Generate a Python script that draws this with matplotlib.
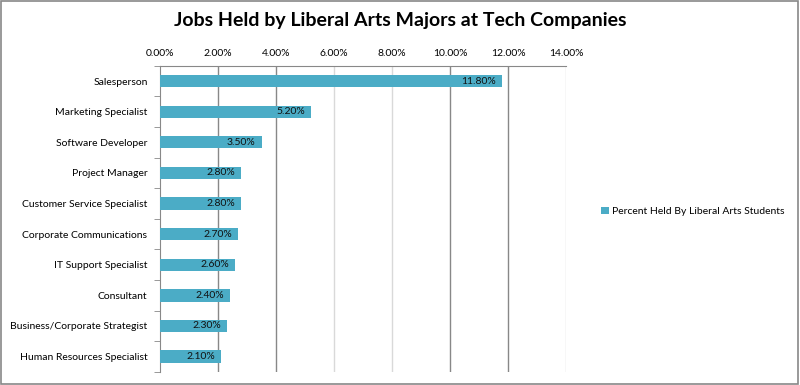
import matplotlib
matplotlib.use('Agg')
import matplotlib.pyplot as plt
from matplotlib.patches import Rectangle, Patch

# Data
jobs = ['Salesperson', 'Marketing Specialist', 'Software Developer', 'Project Manager',
        'Customer Service Specialist', 'Corporate Communications', 'IT Support Specialist',
        'Consultant', 'Business/Corporate Strategist', 'Human Resources Specialist']
percent = [11.8, 5.2, 3.5, 2.8, 2.8, 2.7, 2.6, 2.4, 2.3, 2.1]
ticks = [0, 2, 4, 6, 8, 10, 12, 14]
series_name = 'Percent Held By Liberal Arts Students'

plt.rcParams['font.family'] = ['Lato', 'DejaVu Sans']

fig = plt.figure(figsize=(8, 3.85), dpi=100)
ax = fig.add_axes([0.2, 0.034, 0.5075, 0.795])

bar_color = '#4BACC6'
pos = list(range(len(jobs)))
ax.barh(pos, percent, height=0.4, color=bar_color, zorder=3)

# value labels inside bar ends
for p, v in zip(pos, percent):
    ax.text(v - 0.2, p, '%.2f%%' % v, ha='right', va='center', fontsize=7.5,
            color='#111111', zorder=4)

ax.set_xlim(0, 14)
ax.set_ylim(len(jobs) - 0.5, -0.5)
ax.xaxis.tick_top()
ax.set_xticks(ticks)
ax.set_xticklabels(['%.2f%%' % t for t in ticks], fontsize=7.5)
ax.tick_params(axis='x', length=0, pad=6)

ax.set_yticks(pos)
ax.set_yticklabels(jobs, fontsize=7.5)
ax.set_yticks([p + 0.5 for p in [-1] + pos], minor=True)
ax.tick_params(axis='y', which='major', length=0, pad=9)
ax.tick_params(axis='y', which='minor', length=4, color='#888888', direction='out')

# gridlines
grid_colors = ['#888888', '#888888', '#888888', '#d9d9d9', '#d9d9d9', '#888888', '#888888', '#d9d9d9']
for t, c in zip(ticks[1:], grid_colors[1:]):
    ax.axvline(t, color=c, linewidth=1, zorder=1)

for side in ['right', 'bottom']:
    ax.spines[side].set_visible(False)
for side in ['top', 'left']:
    ax.spines[side].set_color('#888888')

fig.suptitle('Jobs Held by Liberal Arts Majors at Tech Companies', fontsize=14,
             fontweight='bold', y=0.97)

handle = Patch(facecolor=bar_color, edgecolor='none')
fig.legend([handle], [series_name], loc='center left', bbox_to_anchor=(0.74, 0.45),
           frameon=False, fontsize=7.5, handlelength=0.7, handleheight=0.7,
           handletextpad=0.3)

# outer border
fig.patches.append(Rectangle((0.001, 0.002), 0.997, 0.995, transform=fig.transFigure,
                             fill=False, edgecolor='#888888', linewidth=1.2))

fig.savefig('out.png', dpi=100)
